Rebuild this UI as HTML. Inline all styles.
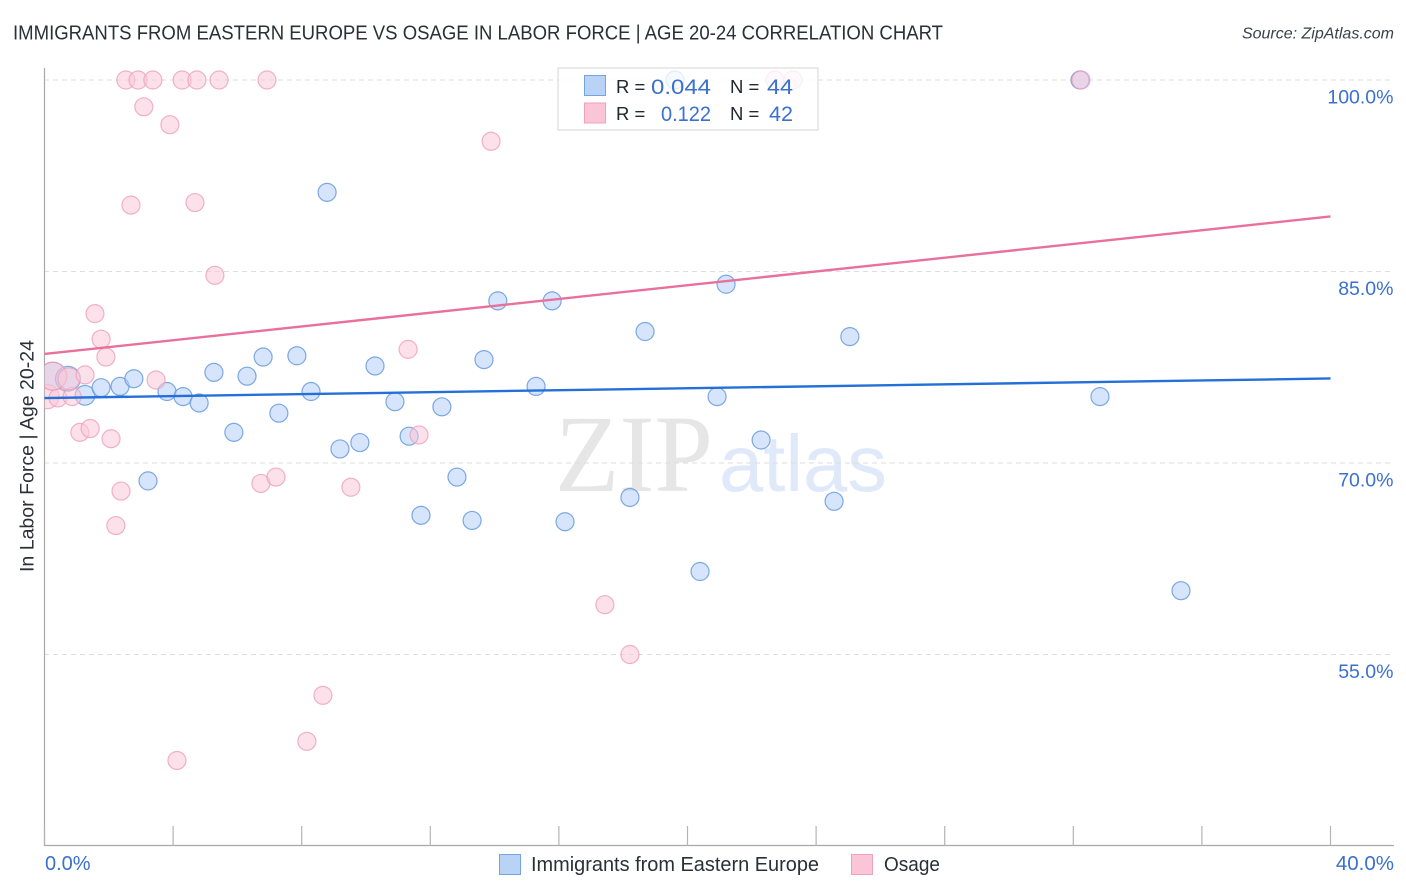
<!DOCTYPE html>
<html>
<head>
<meta charset="utf-8">
<style>
html,body{margin:0;padding:0;background:#fff;}
svg{display:block;font-family:"Liberation Sans",sans-serif;}
</style>
</head>
<body>
<svg id="chart" width="1406" height="892" viewBox="0 0 1406 892" xmlns="http://www.w3.org/2000/svg">
  <defs>
    <clipPath id="plot-clip"><rect x="44.5" y="40" width="1360" height="806"/></clipPath>
  </defs>
  <rect x="0" y="0" width="1406" height="892" fill="#ffffff"/>
  <text x="13" y="39.5" font-size="20" fill="#2b2f36" textLength="930" lengthAdjust="spacingAndGlyphs">IMMIGRANTS FROM EASTERN EUROPE VS OSAGE IN LABOR FORCE | AGE 20-24 CORRELATION CHART</text>
  <text x="1394" y="38.5" font-size="16" font-style="italic" fill="#3c4148" text-anchor="end">Source: ZipAtlas.com</text>
  <text x="555" y="491" font-family="'Liberation Serif',serif" font-size="110" fill="#e6e6e6" textLength="158" lengthAdjust="spacingAndGlyphs">ZIP</text>
  <text x="719" y="491" font-size="80" fill="#dfe9f9" textLength="168" lengthAdjust="spacingAndGlyphs">atlas</text>
  <g id="grid"></g>
  <g id="axes"></g>
  <g id="points" clip-path="url(#plot-clip)"></g>
  <g id="trend"></g>
  <g>
    <rect x="558" y="68" width="260" height="62" fill="#ffffff" fill-opacity="0.78" stroke="#dcdcdc" stroke-width="1.2"/>
    <rect x="584.5" y="75.5" width="21" height="20" fill="#b9d3f7" stroke="#74a3e2" stroke-width="1"/>
    <rect x="584.5" y="103" width="21" height="20" fill="#fac6d7" stroke="#f0a0ba" stroke-width="1"/>
    <g font-size="18.5" fill="#23272e">
      <text x="616" y="93">R =</text>
      <text x="616" y="120">R =</text>
      <text x="730" y="93">N =</text>
      <text x="730" y="120">N =</text>
    </g>
    <g font-size="21" fill="#3a70cf">
      <text x="651" y="94" textLength="60" lengthAdjust="spacingAndGlyphs">0.044</text>
      <text x="661" y="121" textLength="50" lengthAdjust="spacingAndGlyphs">0.122</text>
      <text x="767" y="94" textLength="26" lengthAdjust="spacingAndGlyphs">44</text>
      <text x="769" y="121" textLength="24" lengthAdjust="spacingAndGlyphs">42</text>
    </g>
  </g>
  <g>
    <rect x="499.5" y="854.5" width="21" height="20" fill="#b9d3f7" stroke="#74a3e2" stroke-width="1"/>
    <text x="531" y="871" font-size="20" fill="#2b2f36" textLength="288" lengthAdjust="spacingAndGlyphs">Immigrants from Eastern Europe</text>
    <rect x="851.5" y="854.5" width="21" height="20" fill="#fac6d7" stroke="#f0a0ba" stroke-width="1"/>
    <text x="884" y="871" font-size="20" fill="#2b2f36" textLength="56" lengthAdjust="spacingAndGlyphs">Osage</text>
  </g>
  <text transform="translate(33.5,456) rotate(-90)" font-size="19" fill="#2b2f36" text-anchor="middle" textLength="232" lengthAdjust="spacingAndGlyphs">In Labor Force | Age 20-24</text>
</svg>
<script>
const yTicks = [100, 85, 70, 55];
const yTickLabels = ['100.0%', '85.0%', '70.0%', '55.0%'];
const xTicks = [0, 4, 8, 12, 16, 20, 24, 28, 32, 36, 40];
const xEndLabels = ['0.0%', '40.0%'];
const trendXDomain = [0, 40];
const blueTrend = [75.09, 76.62];
const pinkTrend = [78.54, 89.31];

const blueX = [0.26, 0.73, 1.26, 1.76, 2.35, 2.78, 3.22, 3.81, 4.31, 4.81, 5.27, 5.89, 6.30, 6.80, 7.29, 7.85, 8.29, 8.79, 9.19, 9.81, 10.28, 10.90, 11.34, 11.71, 12.36, 12.83, 13.30, 13.67, 14.10, 15.29, 15.79, 16.19, 18.21, 18.68, 19.61, 20.39, 20.92, 21.20, 22.29, 24.56, 25.05, 32.21, 32.83, 35.35];
const blueY = [76.8, 76.6, 75.3, 75.9, 76.0, 76.6, 68.6, 75.6, 75.2, 74.7, 77.1, 72.4, 76.8, 78.3, 73.9, 78.4, 75.6, 91.2, 71.1, 71.6, 77.6, 74.8, 72.1, 65.9, 74.4, 68.9, 65.5, 78.1, 82.7, 76.0, 82.7, 65.4, 67.3, 80.3, 100, 61.5, 75.2, 84.0, 71.8, 67.0, 79.9, 100, 75.2, 60.0];
const blueWeight = [2.4, 1.9, 1.2, 1, 1, 1, 1, 1, 1, 1, 1, 1, 1, 1, 1, 1, 1, 1, 1, 1, 1, 1, 1, 1, 1, 1, 1, 1, 1, 1, 1, 1, 1, 1, 1, 1, 1, 1, 1, 1, 1, 1, 1, 1];

const pinkX = [0.08, 0.42, 0.86, 0.26, 0.76, 1.26, 1.10, 1.42, 2.07, 2.38, 2.22, 1.57, 1.76, 1.91, 3.47, 2.53, 2.91, 3.37, 4.28, 4.74, 5.43, 6.92, 3.09, 3.90, 2.69, 4.68, 5.30, 6.73, 7.20, 9.53, 11.65, 11.31, 13.89, 17.43, 18.21, 8.66, 8.16, 4.12, 22.72, 23.28, 32.24];
const pinkY = [75.2, 75.1, 75.2, 76.8, 76.6, 76.9, 72.4, 72.7, 71.9, 67.8, 65.1, 81.7, 79.7, 78.3, 76.5, 100, 100, 100, 100, 100, 100, 100, 97.9, 96.5, 90.2, 90.4, 84.7, 68.4, 68.9, 68.1, 72.2, 78.9, 95.2, 58.9, 55.0, 51.8, 48.2, 46.7, 100, 100, 100];
const pinkWeight = [1.8, 1, 1, 2.4, 1.5, 1, 1, 1, 1, 1, 1, 1, 1, 1, 1, 1, 1, 1, 1, 1, 1, 1, 1, 1, 1, 1, 1, 1, 1, 1, 1, 1, 1, 1, 1, 1, 1, 1, 1, 1, 1];

const NS = 'http://www.w3.org/2000/svg';
function xScale(v) { return 44.5 + v * (1330.5 - 44.5) / 40; }
function yScale(v) { return 80 + (100 - v) * (654.5 - 80) / 45; }
function rScale(w) { return 9 * Math.sqrt(w); }
function make(tag, parent, attrs) {
  const el = document.createElementNS(NS, tag);
  Object.keys(attrs).forEach(function (k) { el.setAttribute(k, attrs[k]); });
  parent.appendChild(el);
  return el;
}

const gridG = document.getElementById('grid');
const axesG = document.getElementById('axes');
const trendG = document.getElementById('trend');
const pointsG = document.getElementById('points');

yTicks.forEach(function (v, i) {
  const line = make('line', gridG, { x1: 44, x2: 1394, y1: yScale(v), y2: yScale(v), stroke: '#dedede', 'stroke-width': 1, 'stroke-dasharray': '5 4' });
  
  
  const label = make('text', axesG, { x: 1393.5, y: yScale(v) + 23.5, 'font-size': 19.5, fill: '#3a70cf', 'text-anchor': 'end' });
  
  
  label.textContent = yTickLabels[i];
});

const yAxis = make('line', axesG, { x1: 44.5, x2: 44.5, y1: 68, y2: 846, stroke: '#a8a8a8', 'stroke-width': 1.2 });


const xAxis = make('line', axesG, { x1: 44, x2: 1394, y1: 845.5, y2: 845.5, stroke: '#a8a8a8', 'stroke-width': 1.2 });



xTicks.forEach(function (v) {
  const tick = make('line', axesG, { x1: xScale(v), x2: xScale(v), y1: 826, y2: 846, stroke: '#b4b4b4', 'stroke-width': 1.2 });
  
  
});

const xStart = make('text', axesG, { x: 45, y: 870, 'font-size': 20, fill: '#3a70cf' });


xStart.textContent = xEndLabels[0];
const xEnd = make('text', axesG, { x: 1394, y: 870, 'font-size': 20.5, fill: '#3a70cf', 'text-anchor': 'end' });


xEnd.textContent = xEndLabels[1];

function drawPoints(xs, ys, ws, fill, stroke, name) {
  xs.forEach(function (x, i) {
    const c = make('circle', pointsG, { cx: xScale(x), cy: yScale(ys[i]), r: rScale(ws[i]), fill: fill, 'fill-opacity': 0.55, stroke: stroke, 'stroke-opacity': 0.8, 'stroke-width': 1.2 });
    
    
  });
}
drawPoints(blueX, blueY, blueWeight, '#b4d0f8', '#5f95dd', 'immigrants-point');
drawPoints(pinkX, pinkY, pinkWeight, '#fbc8d8', '#ee9fb9', 'osage-point');

const blueLine = make('line', trendG, { x1: xScale(trendXDomain[0]), x2: xScale(trendXDomain[1]), y1: yScale(blueTrend[0]), y2: yScale(blueTrend[1]), stroke: '#2470d8', 'stroke-width': 2.4 });


const pinkLine = make('line', trendG, { x1: xScale(trendXDomain[0]), x2: xScale(trendXDomain[1]), y1: yScale(pinkTrend[0]), y2: yScale(pinkTrend[1]), stroke: '#e8719c', 'stroke-width': 2.4 });


</script>
</body>
</html>
